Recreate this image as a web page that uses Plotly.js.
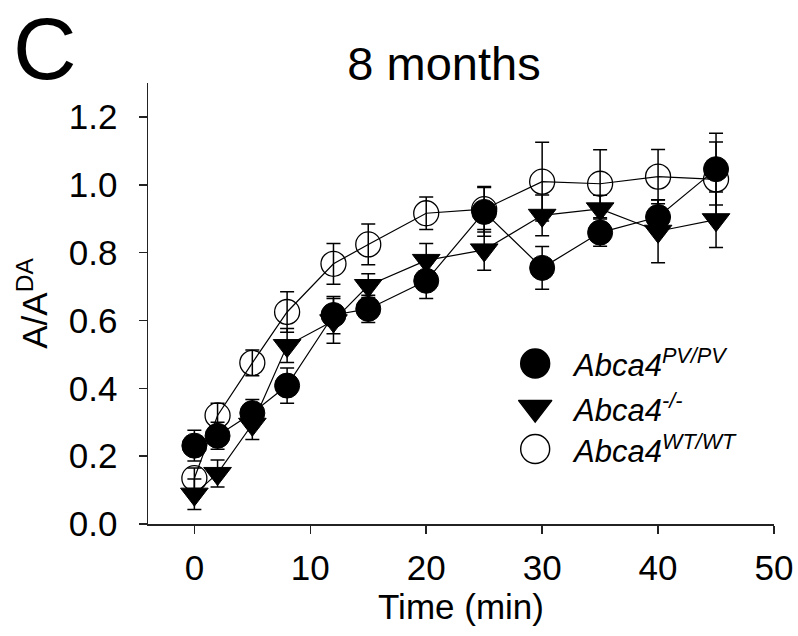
<!DOCTYPE html>
<html>
<head>
<meta charset="utf-8">
<script src="https://cdn.plot.ly/plotly-3.0.1.min.js"></script>
<style>
  html, body { margin: 0; padding: 0; background: #fff; }
  #chart { width: 798px; height: 636px; }
</style>
</head>
<body>
<div id="chart"></div>
<script>
// ---- data ----
const timeMin = [0, 2, 5, 8, 12, 15, 20, 25, 30, 35, 40, 45];

const pvpvMean = [0.231, 0.260, 0.327, 0.408, 0.616, 0.634, 0.717, 0.920, 0.755, 0.859, 0.905, 1.046];
const pvpvErr  = [0.045, 0.040, 0.040, 0.052, 0.055, 0.040, 0.052, 0.072, 0.063, 0.040, 0.050, 0.106];

const koMean = [0.088, 0.149, 0.294, 0.526, 0.599, 0.703, 0.777, 0.808, 0.910, 0.929, 0.863, 0.897];
const koErr  = [0.045, 0.040, 0.045, 0.050, 0.066, 0.035, 0.050, 0.060, 0.060, 0.040, 0.093, 0.082];

const wtMean = [0.135, 0.320, 0.475, 0.625, 0.767, 0.824, 0.916, 0.928, 1.009, 1.003, 1.024, 1.016];
const wtErr  = [0.030, 0.036, 0.038, 0.060, 0.060, 0.060, 0.048, 0.067, 0.116, 0.100, 0.080, 0.110];

const xTicks = [0, 10, 20, 30, 40, 50];
const yTicks = [0.0, 0.2, 0.4, 0.6, 0.8, 1.0, 1.2];

const seriesNames = ['Abca4<sup>PV/PV</sup>', 'Abca4<sup>-/-</sup>', 'Abca4<sup>WT/WT</sup>'];
const panelLetter = 'C';
const chartTitle = '8 months';
const xTitle = 'Time (min)';
const yTitle = 'A/A<sup>DA</sup>';

// ---- styling ----
const FONT = 'Liberation Sans, Arial, Helvetica, sans-serif';
const INK = '#000000';

function errBar(arr) {
  return { type: 'data', array: arr, visible: true, color: INK, thickness: 1.5, width: 7 };
}

const wtTrace = {
  x: timeMin, y: wtMean, type: 'scatter', mode: 'lines+markers',
  name: seriesNames[2], showlegend: false, cliponaxis: false,
  line: { color: INK, width: 1.2 },
  marker: { symbol: 'circle-open', size: 25, color: INK, line: { color: INK, width: 1.3 } },
  error_y: errBar(wtErr)
};
const koTrace = {
  x: timeMin, y: koMean, type: 'scatter', mode: 'lines+markers',
  name: seriesNames[1], showlegend: false, cliponaxis: false,
  line: { color: INK, width: 1.2 },
  marker: { symbol: 'triangle-down', size: 24, color: INK, line: { color: INK, width: 1 } },
  error_y: errBar(koErr)
};
const pvTrace = {
  x: timeMin, y: pvpvMean, type: 'scatter', mode: 'lines+markers',
  name: seriesNames[0], showlegend: false, cliponaxis: false,
  line: { color: INK, width: 1.2 },
  marker: { symbol: 'circle', size: 25, color: INK, line: { color: INK, width: 1 } },
  error_y: errBar(pvpvErr)
};

// manual legend (symbols larger than Plotly's legend allows)
const legendSymbols = ['circle', 'triangle-down', 'circle-open'];
const legX = 0.6185;
const legY = [0.364, 0.264, 0.170];
const legendTrace = {
  x: [legX, legX, legX], y: legY, xaxis: 'x2', yaxis: 'y2',
  type: 'scatter', mode: 'markers', showlegend: false, hoverinfo: 'skip', cliponaxis: false,
  marker: { symbol: legendSymbols, size: 29, color: INK, line: { color: INK, width: 1.4 } }
};

const annotations = seriesNames.map((nm, i) => ({
  xref: 'paper', yref: 'paper', x: 0.6745, y: legY[i],
  xanchor: 'left', yanchor: 'middle', showarrow: false,
  text: '<i>' + nm + '</i>',
  font: { family: FONT, size: 31, color: INK }
}));
annotations.push({
  xref: 'paper', yref: 'paper', x: -0.165, y: 1.078,
  xanchor: 'center', yanchor: 'middle', showarrow: false,
  text: panelLetter, font: { family: FONT, size: 88, color: INK }
});

const layout = {
  width: 798, height: 636,
  margin: { l: 148, r: 24, t: 83, b: 112, pad: 0 },
  paper_bgcolor: '#ffffff', plot_bgcolor: '#ffffff',
  font: { family: FONT, color: INK },
  showlegend: false,
  title: {
    text: chartTitle, font: { family: FONT, size: 47, color: INK },
    x: 444 / 798, xanchor: 'center', xref: 'container',
    y: 1 - 64 / 636, yanchor: 'middle', yref: 'container'
  },
  xaxis: {
    range: [-4, 50], tickvals: xTicks, ticktext: xTicks.map(String),
    ticks: 'outside', ticklen: 8, tickwidth: 1.5, tickcolor: '#222',
    showline: true, linewidth: 1.5, linecolor: '#222',
    showgrid: false, zeroline: false, ticklabelstandoff: 4,
    tickfont: { family: FONT, size: 35, color: INK },
    title: { text: xTitle, font: { family: FONT, size: 35, color: INK }, standoff: 8 },
    automargin: false, fixedrange: true
  },
  yaxis: {
    range: [0, 1.3], tickvals: yTicks, ticktext: yTicks.map(v => v.toFixed(1)),
    ticks: 'outside', ticklen: 8, tickwidth: 1.5, tickcolor: '#222',
    showline: true, linewidth: 1.5, linecolor: '#222',
    showgrid: false, zeroline: false, ticklabelstandoff: 14,
    tickfont: { family: FONT, size: 35, color: INK },
    title: { text: yTitle, font: { family: FONT, size: 35, color: INK }, standoff: 10 },
    automargin: false, fixedrange: true
  },
  xaxis2: { overlaying: 'x', range: [0, 1], visible: false, fixedrange: true },
  yaxis2: { overlaying: 'y', range: [0, 1], visible: false, fixedrange: true },
  annotations: annotations
};

Plotly.newPlot('chart', [wtTrace, koTrace, pvTrace, legendTrace], layout,
  { displayModeBar: false, staticPlot: true });
</script>
</body>
</html>
